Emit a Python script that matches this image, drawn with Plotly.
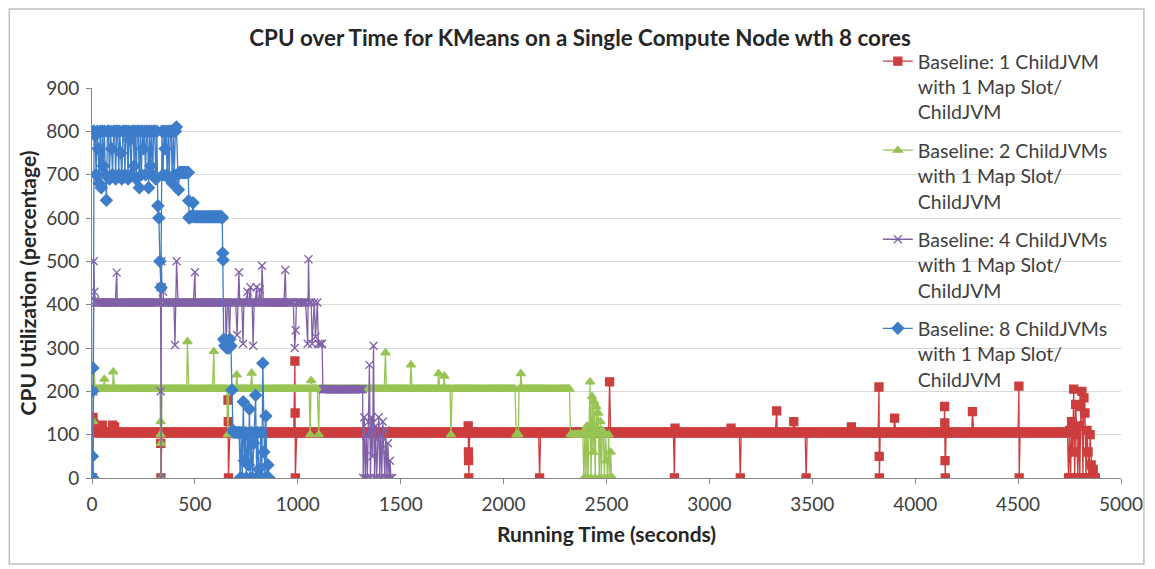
import plotly.graph_objects as go

STEP = 5  # sampling interval of the CPU monitor (seconds)

X_TICKS = [0, 500, 1000, 1500, 2000, 2500, 3000, 3500, 4000, 4500, 5000]
Y_TICKS = [0, 100, 200, 300, 400, 500, 600, 700, 800, 900]

NAMES = [
    "Baseline: 1 ChildJVM<br>with 1 Map Slot/<br>ChildJVM",
    "Baseline: 2 ChildJVMs<br>with 1 Map Slot/<br>ChildJVM",
    "Baseline: 4 ChildJVMs<br>with 1 Map Slot/<br>ChildJVM",
    "Baseline: 8 ChildJVMs<br>with 1 Map Slot/<br>ChildJVM",
]

# ---------------- 1 ChildJVM (red) ----------------
RED_HOLDS = [(10, 4740, 105)]
RED_POINTS = [
    (0, 0), (2, 0), (5, 140), (8, 125), (20, 118), (50, 122), (100, 122), (110, 118),
    (333, 105), (334, 80), (335, 0),
    (661, 180), (662, 130), (663, 0),
    (986, 270), (987, 150), (988, 0),
    (1828, 120), (1829, 60), (1830, 40), (1831, 0),
    (2175, 0),
    (2515, 222),
    (2830, 0), (2833, 115),
    (3105, 115), (3150, 0),
    (3327, 155), (3410, 130), (3470, 0), (3690, 118),
    (3824, 210), (3825, 50), (3826, 0),
    (3900, 138),
    (4143, 165), (4144, 127), (4145, 40), (4146, 0),
    (4278, 153),
    (4504, 212), (4505, 0),
]
RED_BURSTS = [
    (4745, [0, 110, 0, 130, 60, 205, 0, 170, 100, 0, 120, 0, 165, 200, 0,
            185, 150, 0, 110, 60, 0, 100, 30, 0, 20, 0, 0]),
]

# ---------------- 2 ChildJVMs (green) ----------------
GREEN_HOLDS = [(15, 2320, 205), (2325, 2380, 100)]
GREEN_POINTS = [
    (0, 0), (3, 0), (6, 130), (10, 257),
    (60, 228), (103, 245),
    (333, 100), (334, 130), (335, 80), (336, 0),
    (464, 315), (592, 292), (660, 100), (703, 238), (776, 242),
    (1060, 100), (1065, 225), (1102, 100),
    (1426, 289), (1550, 261), (1684, 241), (1712, 235), (1744, 100),
    (2062, 100), (2067, 100), (2072, 100), (2084, 241),
]
GREEN_BURSTS = [
    (2385, [100, 0, 110, 0, 120, 0, 100, 222, 0, 188, 60, 176, 0, 165, 100,
            150, 0, 130, 0, 110, 100, 0, 100, 40, 0, 100, 0, 60, 0, 0]),
]

# ---------------- 4 ChildJVMs (purple) ----------------
PURPLE_HOLDS = [(18, 1040, 405), (1125, 1315, 205)]
PURPLE_POINTS = [
    (0, 0), (3, 0), (6, 200), (9, 500), (12, 430), (15, 410),
    (120, 474),
    (333, 440), (334, 200), (335, 0), (336, 0), (337, 500), (340, 440), (345, 430),
    (403, 307), (411, 500), (500, 475),
    (652, 310), (668, 320), (705, 330), (714, 475), (734, 310),
    (755, 430), (770, 440), (783, 305), (800, 440), (815, 435), (826, 490),
    (939, 480), (985, 300), (990, 341),
    (1048, 310), (1052, 505), (1056, 405), (1065, 405), (1070, 310), (1080, 405),
    (1086, 326), (1095, 405), (1100, 310), (1110, 310), (1118, 310), (1122, 205),
]
PURPLE_BURSTS = [
    (1318, [0, 140, 0, 100, 0, 130, 261, 0, 140, 50, 305, 0, 120, 0, 90,
            140, 0, 100, 0, 130, 60, 0, 110, 0, 80, 0, 40, 0, 0]),
]

# ---------------- 8 ChildJVMs (blue) ----------------
BLUE_HOLDS = [(430, 465, 705), (475, 630, 603)]
BLUE_POINTS = [
    (0, 0), (1, 0), (2, 50), (3, 200), (4, 254), (5, 0), (7, 800),
    (468, 705), (470, 640), (472, 600), (491, 635),
    (633, 600), (635, 519), (637, 503), (640, 320), (645, 305), (650, 315),
    (655, 300), (660, 310), (665, 300), (670, 320), (675, 305), (680, 203),
    (685, 110), (690, 105), (700, 105), (710, 105), (715, 105),
]
BLUE_BURSTS = [
    (10, [800, 790, 700, 800, 760, 680, 800, 670, 800, 720,
          800, 700, 641, 800, 800, 690, 800, 760, 700, 800,
          800, 690, 800, 800, 700, 800, 750, 690, 800, 800,
          700, 800, 800, 690, 800, 780, 700, 800, 800, 720,
          800, 690, 800, 800, 670, 800, 700, 800, 760, 800,
          700, 800, 800, 670, 800, 720, 800, 700, 800, 800,
          690, 800, 628, 600, 500, 440, 800, 700, 800, 760,
          800, 700, 800, 690, 800, 800, 680, 800, 700, 800,
          810, 700, 665, 705]),
    (720, [0, 105, 0, 176, 40, 105, 0, 100, 30, 159, 0, 105, 0, 80, 105,
           191, 0, 105, 20, 0, 105, 0, 265, 60, 0, 143, 0, 30, 0]),
]

COLORS = ["#CC3D3D", "#98C455", "#8061A8", "#3D7DCA"]
SYMBOLS = ["square", "triangle-up", "x-thin-open", "diamond"]
SIZES = [8, 8, 8, 9]


def build(holds, points, bursts):
    pts = list(points)
    ev = [t for t, _ in points]
    for t0, t1, v in holds:
        t = t0
        while t <= t1:
            if all(abs(t - e) >= 3 for e in ev):
                pts.append((t, v))
            t += STEP
    for start, vals in bursts:
        for i, v in enumerate(vals):
            pts.append((start + STEP * i, v))
    pts.sort(key=lambda p: p[0])
    return [p[0] for p in pts], [p[1] for p in pts]


DATA = [
    (RED_HOLDS, RED_POINTS, RED_BURSTS),
    (GREEN_HOLDS, GREEN_POINTS, GREEN_BURSTS),
    (PURPLE_HOLDS, PURPLE_POINTS, PURPLE_BURSTS),
    (BLUE_HOLDS, BLUE_POINTS, BLUE_BURSTS),
]

fig = go.Figure()
for i, (h, p, b) in enumerate(DATA):
    xs, ys = build(h, p, b)
    fig.add_trace(go.Scatter(
        x=xs, y=ys, mode="lines+markers", name=NAMES[i],
        legendgroup=f"g{i}",
        line=dict(color=COLORS[i], width=1.3),
        marker=dict(symbol=SYMBOLS[i], size=SIZES[i], color=COLORS[i],
                    line=dict(color=COLORS[i], width=1.3)),
    ))

# the page body adds an 8px offset, so the figure is sized/margined to compensate
W, H = 1147, 561
ML, MR, MT, MB = 84, 30, 80, 91
PW, PH = W - ML - MR, H - MT - MB

FONT = "Lato, Liberation Sans, sans-serif"
fig.update_layout(
    width=W, height=H,
    margin=dict(l=ML, r=MR, t=MT, b=MB),
    paper_bgcolor="white", plot_bgcolor="white",
    font=dict(family=FONT, color="#404040"),
    title=dict(text="<b>CPU over Time for KMeans on a Single Compute Node wth 8 cores</b>",
               x=0.4987, xanchor="center", y=0.9465, yanchor="middle",
               font=dict(size=22.4, color="#262626", family=FONT)),
    legend=dict(x=0.7637, xanchor="left", y=1.118, yanchor="top",
                bgcolor="rgba(0,0,0,0)", font=dict(size=19.5, color="#404040"),
                tracegroupgap=10, itemwidth=30, valign="top", maxheight=520),
    showlegend=True,
    shapes=[dict(type="rect", xref="paper", yref="paper",
                 x0=(1 - ML) / PW, x1=(1140 - ML) / PW,
                 y0=(H - MB - 556) / PH, y1=1 + (MT - 1) / PH,
                 line=dict(color="#BFBFBF", width=1.5), layer="below")],
)
fig.update_xaxes(
    range=[0, 5000], tickvals=X_TICKS, showgrid=False, zeroline=False,
    showline=True, linecolor="#868686", linewidth=1,
    ticks="outside", ticklen=5, tickcolor="#868686", ticklabelstandoff=4,
    tickfont=dict(size=19, color="#404040"),
    title=dict(text="<b>Running Time (seconds)</b>", standoff=13,
               font=dict(size=21, color="#262626")),
)
fig.update_yaxes(
    range=[0, 900], tickvals=Y_TICKS, showgrid=True, gridcolor="#D9D9D9", gridwidth=1.2,
    zeroline=False, showline=True, linecolor="#868686", linewidth=1,
    ticks="outside", ticklen=5, tickcolor="#868686", ticklabelstandoff=3,
    tickfont=dict(size=19, color="#404040"),
    title=dict(text="<b>CPU Utilization (percentage)</b>", standoff=3,
               font=dict(size=21, color="#262626")),
)

fig.write_html("out.html")
